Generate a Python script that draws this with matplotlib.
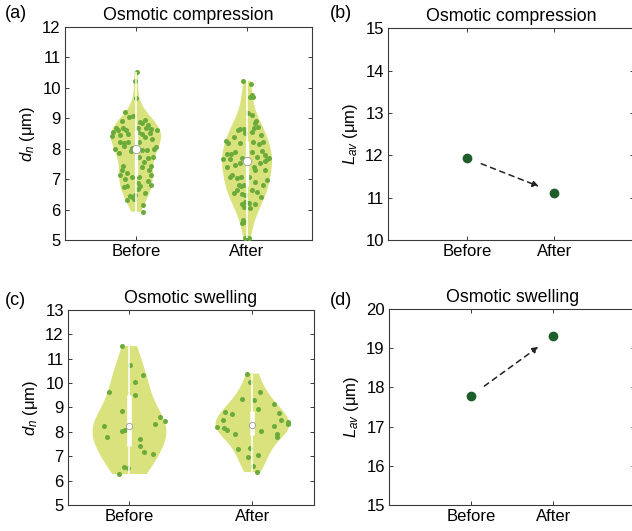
import numpy as np
import matplotlib
matplotlib.use("Agg")
import matplotlib.pyplot as plt

plt.rcParams['font.family'] = ['Liberation Sans', 'DejaVu Sans']
plt.rcParams['mathtext.fontset'] = 'custom'
plt.rcParams['mathtext.rm'] = 'Liberation Sans'
plt.rcParams['mathtext.it'] = 'Liberation Sans:italic'
plt.rcParams['font.size'] = 12

# ---- data ----
groups = ['Before', 'After']

# (a) osmotic compression, d_n values (um) and horizontal jitter
comp_before = [10.53, 10.22, 9.66, 9.20, 9.05, 9.09, 8.91, 8.88, 8.94, 8.83, 8.78, 8.69,
               8.67, 8.64, 8.62, 8.67, 8.62, 8.56, 8.42, 8.67, 8.62, 8.48, 8.45, 8.56,
               8.48, 8.51, 8.40, 8.23, 8.31, 8.23, 8.20, 8.23, 8.09, 7.96, 7.96, 7.98,
               8.05, 7.99, 7.85, 8.01, 7.93, 7.74, 7.71, 7.74, 7.58, 7.43, 7.41, 7.43,
               7.30, 7.19, 7.14, 7.30, 7.14, 7.08, 7.06, 7.00, 6.95, 6.81, 6.86, 6.78,
               6.75, 6.78, 6.67, 6.48, 6.42, 6.53, 6.45, 6.34, 6.32, 6.15, 5.93]
comp_before_jit = [0.012, -0.009, 0.003, -0.099, -0.063, -0.030, -0.129, 0.033, 0.081,
                   0.054, 0.111, 0.015, 0.087, 0.132, 0.189, -0.183, -0.159, -0.204,
                   -0.213, -0.114, -0.093, -0.069, -0.147, 0.021, 0.051, 0.123, 0.081,
                   0.027, 0.147, -0.144, -0.105, -0.069, -0.111, 0.051, 0.096, 0.165,
                   0.180, -0.189, -0.153, -0.039, -0.045, 0.030, 0.111, 0.156, 0.072,
                   0.132, 0.051, -0.117, -0.129, -0.084, -0.140, 0.117, 0.135, 0.030,
                   -0.039, -0.099, 0.105, 0.135, 0.021, 0.036, -0.105, -0.078, 0.015,
                   -0.009, -0.033, 0.081, -0.054, -0.015, -0.084, 0.060, 0.060]

comp_after = [10.23, 10.13, 9.77, 9.69, 9.71, 9.16, 9.11, 8.92, 8.83, 8.72, 8.67, 8.62,
              8.65, 8.64, 8.51, 8.56, 8.45, 8.23, 8.16, 8.38, 8.25, 8.18, 8.18, 8.23,
              7.90, 7.82, 7.82, 7.94, 7.79, 7.90, 7.74, 7.65, 7.69, 7.65, 7.65, 7.69,
              7.41, 7.61, 7.52, 7.41, 7.47, 7.52, 7.30, 7.30, 6.97, 7.14, 7.06, 7.03,
              7.08, 7.08, 6.92, 6.81, 6.81, 6.78, 6.81, 6.64, 6.59, 6.64, 6.56, 6.50,
              6.48, 6.42, 6.23, 6.20, 6.20, 6.26, 6.07, 6.04, 5.66, 5.55, 5.60, 5.06,
              5.06]
comp_after_jit = [-0.033, 0.039, 0.045, 0.030, 0.051, 0.010, 0.045, 0.081, 0.069, 0.099,
                  0.060, -0.081, -0.060, -0.030, -0.021, 0.045, 0.129, 0.141, 0.105,
                  -0.120, -0.189, -0.171, -0.060, 0.051, -0.105, -0.141, -0.177, 0.135,
                  0.165, 0.045, 0.090, 0.180, 0.195, -0.216, -0.150, -0.045, 0.060,
                  0.165, 0.120, -0.183, -0.105, -0.060, 0.075, 0.165, 0.180, -0.135,
                  -0.150, -0.090, -0.051, 0.015, 0.075, 0.144, -0.075, -0.051, -0.030,
                  0.045, 0.090, -0.090, -0.120, -0.045, -0.015, 0.129, 0.015, 0.069,
                  -0.045, -0.021, -0.024, 0.030, -0.039, -0.045, -0.030, -0.015, 0.015]

# (c) osmotic swelling
swell_before = [11.52, 10.74, 10.32, 10.06, 9.62, 9.50, 8.86, 8.62, 8.46, 8.34, 8.25,
                8.05, 8.09, 7.80, 7.69, 7.42, 7.17, 7.08, 6.57, 6.53, 6.27]
swell_before_jit = [-0.065, 0.008, 0.108, 0.048, -0.167, 0.048, -0.059, 0.250, 0.290,
                    0.204, -0.207, -0.059, -0.038, -0.180, 0.083, 0.089, 0.121, 0.188,
                    -0.046, -0.013, -0.086]

swell_after = [10.39, 10.03, 9.65, 9.34, 9.29, 9.16, 8.93, 8.83, 8.73, 8.77, 8.50, 8.47,
               8.39, 8.32, 8.20, 8.23, 8.15, 8.06, 8.02, 7.90, 7.91, 7.79, 7.33, 7.30,
               7.04, 6.97, 6.60, 6.35]
swell_after_jit = [-0.046, -0.019, 0.062, -0.086, 0.013, 0.175, 0.046, -0.220, -0.167,
                   0.215, -0.242, 0.229, 0.288, 0.290, -0.290, 0.175, -0.228, -0.207,
                   0.067, -0.142, 0.196, 0.202, -0.019, -0.121, 0.046, -0.035, 0.003,
                   0.035]

# (b), (d) average length L_av (um)
lav_comp = [11.93, 11.12]
lav_swell = [17.79, 19.31]

fill_col = '#d9e27c'
dot_col = '#6aab3c'
mark_col = '#1e5e2b'
spine_col = '#3a3a3a'


def style_axes(ax):
    for s in ax.spines.values():
        s.set_color(spine_col)
        s.set_linewidth(0.8)
    ax.tick_params(direction='in', top=True, right=True, length=3,
                   width=0.7, color=spine_col, labelsize=12, pad=3)


def violin_panel(ax, data, jitter, width, box_lw, med_size, bw):
    parts = ax.violinplot(data, positions=[1, 2], widths=width,
                          showextrema=False, bw_method=bw)
    for body in parts['bodies']:
        body.set_facecolor(fill_col)
        body.set_edgecolor('none')
        body.set_alpha(1)
    for pos, vals, jit in zip([1, 2], data, jitter):
        vals = np.array(vals)
        ax.scatter(pos + np.array(jit), vals, s=13, color=dot_col,
                   linewidths=0, zorder=3)
        q1, med, q3 = np.percentile(vals, [25, 50, 75])
        ax.vlines(pos, vals.min(), vals.max(), color='white', lw=1.1, zorder=4)
        ax.vlines(pos, q1, q3, color='white', lw=box_lw, zorder=4)
        ax.plot(pos, med, 'o', ms=med_size, mfc='white', mec='#999999',
                mew=0.6, zorder=5)


def trend_panel(ax, vals):
    ax.plot([1, 2], vals, 'o', ms=6, color=mark_col, zorder=3)
    t0, t1 = 0.16, 0.82
    x0 = 1 + t0
    x1 = 1 + t1
    y0 = vals[0] + t0 * (vals[1] - vals[0])
    y1 = vals[0] + t1 * (vals[1] - vals[0])
    ax.annotate('', xy=(x1, y1), xytext=(x0, y0),
                arrowprops=dict(arrowstyle='-|>', color='#222222', lw=1.1,
                                linestyle=(0, (3.5, 3)), mutation_scale=9,
                                shrinkA=0, shrinkB=0))


fig = plt.figure(figsize=(6.32, 5.31), dpi=100)

ax_a = fig.add_axes([0.1028, 0.548, 0.3908, 0.4011])
violin_panel(ax_a, [comp_before, comp_after], [comp_before_jit, comp_after_jit],
             0.45, 2.4, 6, 'scott')
ax_a.set_xlim(0.36, 2.585)
ax_a.set_ylim(5, 12)
ax_a.set_yticks(range(5, 13))
ax_a.set_ylabel(r'$d_n$ (μm)', fontsize=12, labelpad=4)
ax_a.set_title('Osmotic compression', fontsize=12.8, pad=5)

ax_b = fig.add_axes([0.6139, 0.548, 0.389, 0.399])
trend_panel(ax_b, lav_comp)
ax_b.set_xlim(0.09, 2.91)
ax_b.set_ylim(10, 15)
ax_b.set_yticks(range(10, 16))
ax_b.set_ylabel(r'$L_{av}$ (μm)', fontsize=12, labelpad=4)
ax_b.set_title('Osmotic compression', fontsize=12.8, pad=5)

ax_c = fig.add_axes([0.1076, 0.049, 0.3892, 0.3672])
violin_panel(ax_c, [swell_before, swell_after], [swell_before_jit, swell_after_jit],
             0.6, 3.3, 4.5, 'scott')
ax_c.set_xlim(0.5, 2.5)
ax_c.set_ylim(5, 13)
ax_c.set_yticks(range(5, 14))
ax_c.set_ylabel(r'$d_n$ (μm)', fontsize=12, labelpad=4)
ax_c.set_title('Osmotic swelling', fontsize=12.8, pad=5)

ax_d = fig.add_axes([0.6155, 0.049, 0.39, 0.369])
trend_panel(ax_d, lav_swell)
ax_d.set_xlim(0, 3)
ax_d.set_ylim(15, 20)
ax_d.set_yticks(range(15, 21))
ax_d.set_ylabel(r'$L_{av}$ (μm)', fontsize=12, labelpad=4)
ax_d.set_title('Osmotic swelling', fontsize=12.8, pad=5)

for ax in (ax_a, ax_b, ax_c, ax_d):
    ax.set_xticks([1, 2])
    ax.set_xticklabels(groups)
    style_axes(ax)

fig.text(0.008, 0.975, '(a)', fontsize=13, va='center', ha='left')
fig.text(0.522, 0.975, '(b)', fontsize=13, va='center', ha='left')
fig.text(0.008, 0.435, '(c)', fontsize=13, va='center', ha='left')
fig.text(0.522, 0.435, '(d)', fontsize=13, va='center', ha='left')

fig.savefig('out.png', dpi=100)
